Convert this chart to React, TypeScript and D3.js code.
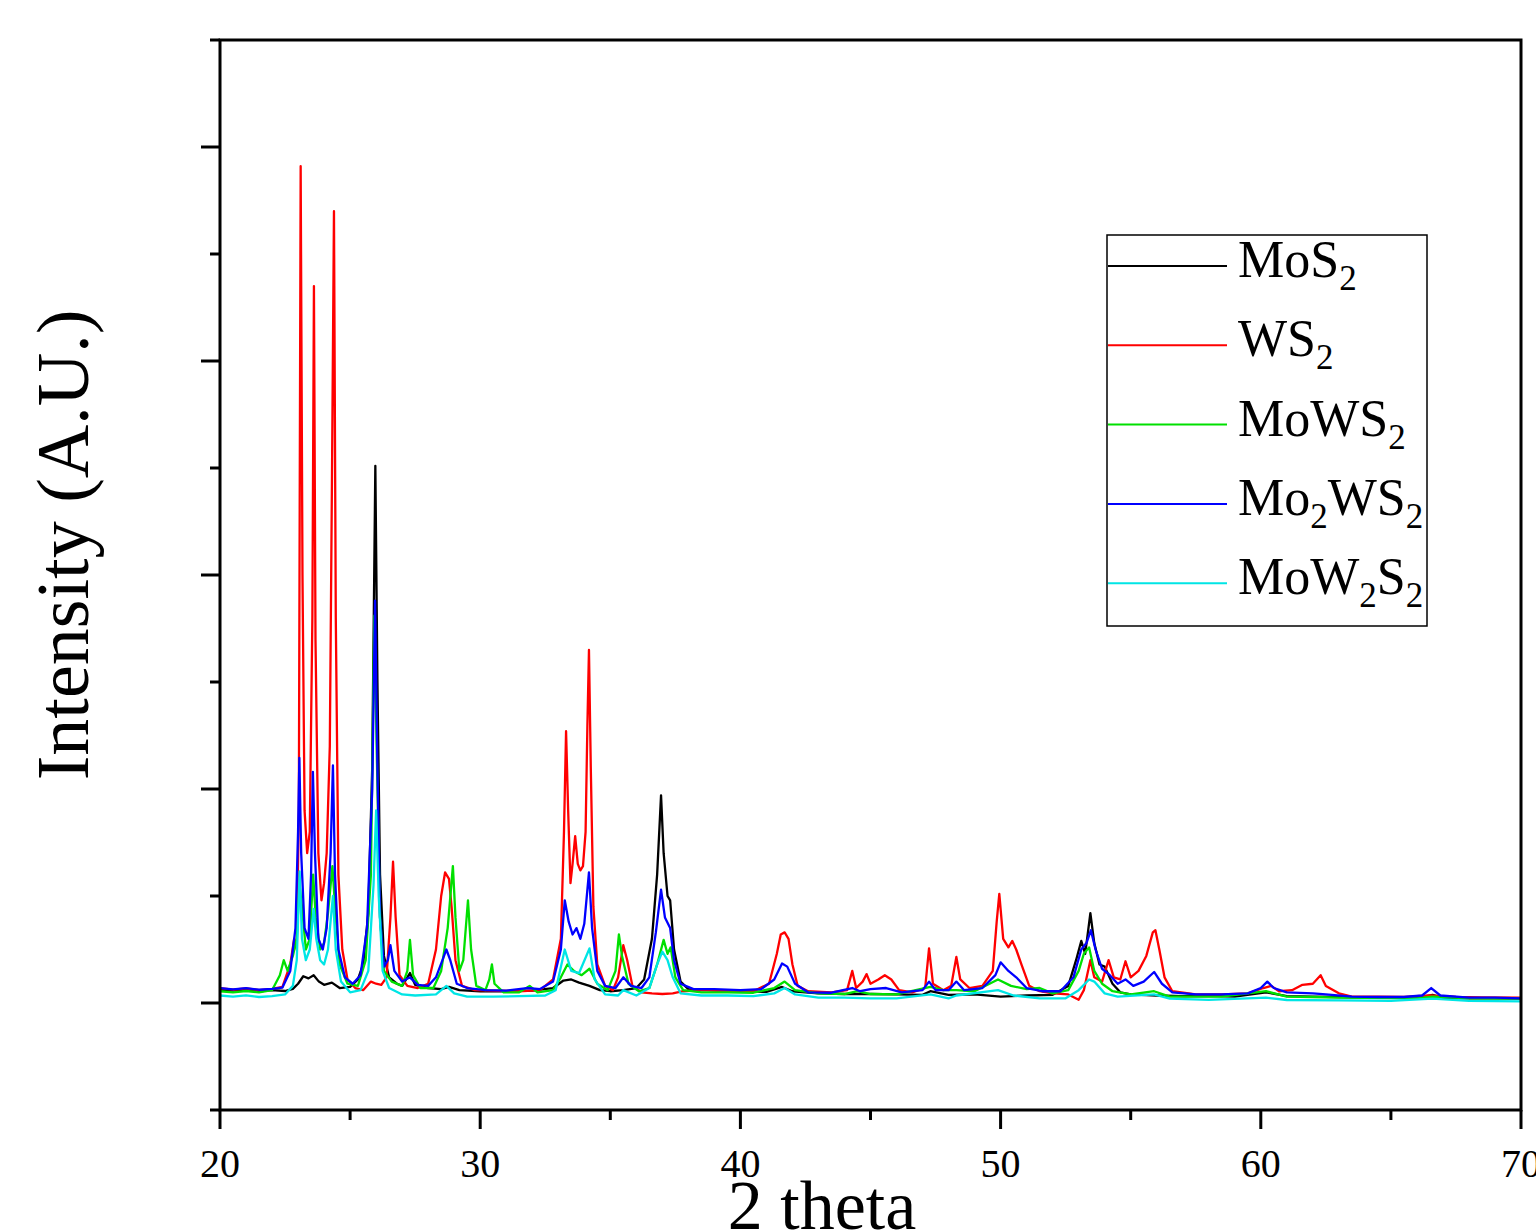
import React, { useEffect, useRef } from 'react';
import * as d3 from 'd3';

// XRD patterns, [2 theta, intensity]
const mos2: [number, number][] = [
  [20, 62], [20.5, 58], [21, 64], [21.5, 55], [22, 60], [22.5, 56], [22.8, 66], [23.0, 90], [23.2, 125], [23.4, 115],
  [23.6, 130], [23.8, 100], [24.0, 85], [24.3, 95], [24.6, 70], [25.0, 75], [25.3, 110], [25.5, 180], [25.7, 420],
  [25.85, 1100], [25.97, 2510], [26.05, 1500], [26.15, 600], [26.3, 220], [26.5, 120], [26.8, 90], [27.0, 80],
  [27.3, 140], [27.5, 85], [28, 70], [28.5, 65], [28.8, 75], [29.2, 60], [30, 55], [31, 55], [32, 58], [32.8, 70],
  [33.2, 105], [33.5, 110], [33.8, 95], [34.2, 80], [34.6, 60], [35, 55], [35.5, 60], [36, 70], [36.3, 110],
  [36.6, 300], [36.8, 600], [36.95, 970], [37.05, 700], [37.2, 500], [37.3, 480], [37.45, 250], [37.7, 100],
  [38, 65], [39, 60], [40, 55], [41, 52], [41.6, 75], [42, 55], [43, 45], [44, 42], [45, 42], [46, 40], [47, 38],
  [47.3, 55], [48, 38], [49, 40], [50, 30], [51, 35], [52, 38], [52.6, 80], [52.9, 200], [53.1, 290], [53.25, 230],
  [53.45, 420], [53.6, 280], [53.8, 180], [54.0, 170], [54.3, 90], [54.6, 50], [55, 40], [56, 35], [57, 32],
  [58, 33], [59, 30], [60.2, 50], [61, 32], [62, 30], [63, 28], [64, 25], [65, 25], [66, 24], [66.6, 38], [67, 24],
  [68, 22], [69, 22], [70, 20],
];

const ws2: [number, number][] = [
  [20, 70], [20.5, 62], [21, 68], [21.5, 60], [22, 66], [22.4, 75], [22.7, 180], [22.85, 300], [22.95, 250],
  [23.03, 900], [23.1, 3910], [23.17, 2000], [23.25, 900], [23.35, 700], [23.45, 800], [23.55, 1800], [23.61, 3350],
  [23.67, 1700], [23.78, 700], [23.9, 480], [24.0, 560], [24.1, 700], [24.22, 1200], [24.3, 2400], [24.38, 3700],
  [24.45, 1800], [24.55, 600], [24.7, 250], [24.9, 110], [25.2, 70], [25.5, 60], [25.8, 100], [26.0, 90],
  [26.2, 85], [26.4, 120], [26.55, 400], [26.65, 660], [26.75, 400], [26.9, 130], [27.2, 80], [27.6, 70], [28, 90],
  [28.3, 250], [28.5, 500], [28.65, 610], [28.8, 580], [28.9, 450], [29.05, 200], [29.3, 80], [29.8, 60],
  [30.5, 58], [31.5, 55], [32.3, 60], [32.8, 110], [33.1, 300], [33.22, 800], [33.3, 1270], [33.38, 900],
  [33.47, 560], [33.55, 650], [33.65, 780], [33.75, 650], [33.85, 620], [33.95, 640], [34.05, 800], [34.12, 1300],
  [34.18, 1650], [34.25, 1100], [34.35, 450], [34.5, 180], [34.8, 80], [35.1, 60], [35.3, 120], [35.5, 270],
  [35.65, 200], [35.85, 80], [36.2, 50], [36.6, 45], [37, 42], [37.4, 45], [37.8, 55], [38.5, 60], [39.5, 55],
  [40.5, 55], [41.1, 90], [41.4, 230], [41.55, 320], [41.7, 330], [41.85, 300], [42.0, 180], [42.2, 80],
  [42.6, 55], [43.5, 50], [44.1, 60], [44.3, 150], [44.45, 70], [44.7, 100], [44.85, 135], [45.0, 90], [45.3, 110],
  [45.55, 130], [45.8, 110], [46.1, 60], [46.6, 50], [47.1, 70], [47.25, 255], [47.4, 90], [47.8, 60], [48.1, 80],
  [48.3, 215], [48.45, 110], [48.8, 70], [49.3, 80], [49.7, 150], [49.85, 380], [49.95, 510], [50.1, 300],
  [50.3, 260], [50.45, 290], [50.6, 250], [50.8, 180], [51.1, 80], [51.5, 55], [52, 45], [52.6, 40], [53.0, 15],
  [53.2, 60], [53.45, 200], [53.6, 120], [53.9, 100], [54.15, 200], [54.35, 120], [54.6, 110], [54.8, 195],
  [55.0, 120], [55.3, 150], [55.6, 220], [55.85, 330], [55.95, 340], [56.1, 250], [56.3, 120], [56.6, 55],
  [57.5, 40], [58.5, 40], [59.5, 45], [60.1, 70], [60.4, 80], [60.7, 55], [61.2, 60], [61.6, 85], [62.0, 90],
  [62.3, 130], [62.5, 80], [63, 45], [63.5, 30], [64.5, 30], [65.5, 28], [66.5, 35], [67.5, 28], [68.5, 26],
  [70, 25],
];

const mows2: [number, number][] = [
  [20, 55], [20.5, 50], [21, 56], [21.5, 50], [22, 60], [22.3, 130], [22.45, 200], [22.6, 150], [22.8, 220],
  [22.95, 300], [23.05, 560], [23.15, 450], [23.3, 250], [23.45, 300], [23.58, 600], [23.68, 400], [23.85, 250],
  [24.0, 280], [24.15, 420], [24.32, 640], [24.45, 400], [24.6, 180], [24.9, 90], [25.3, 80], [25.6, 200],
  [25.8, 600], [25.93, 1810], [26.02, 1200], [26.15, 400], [26.3, 150], [26.6, 100], [27.0, 80], [27.2, 150],
  [27.3, 295], [27.42, 130], [27.7, 70], [28.2, 70], [28.5, 150], [28.75, 350], [28.95, 640], [29.05, 400],
  [29.2, 150], [29.35, 200], [29.53, 480], [29.65, 250], [29.85, 80], [30.2, 60], [30.35, 110], [30.45, 180],
  [30.55, 90], [30.9, 50], [31.5, 50], [31.9, 80], [32.2, 50], [32.8, 60], [33.1, 120], [33.35, 180], [33.6, 150],
  [33.9, 130], [34.2, 160], [34.5, 90], [34.9, 60], [35.2, 150], [35.33, 320], [35.45, 220], [35.7, 90],
  [36.1, 55], [36.5, 70], [36.8, 180], [37.05, 295], [37.2, 230], [37.32, 260], [37.5, 120], [37.8, 60],
  [38.5, 50], [39.5, 50], [40.5, 48], [41.3, 70], [41.7, 100], [42.1, 60], [43, 45], [44, 42], [44.5, 55],
  [45, 42], [46, 40], [47.3, 75], [47.8, 60], [48.3, 60], [49, 55], [49.9, 110], [50.4, 80], [51, 65], [51.5, 70],
  [52, 45], [52.6, 60], [53.0, 150], [53.2, 230], [53.4, 260], [53.6, 150], [53.9, 90], [54.3, 55], [55, 40],
  [55.9, 55], [56.5, 30], [57.5, 30], [58.5, 30], [60.2, 55], [61, 30], [62, 28], [63, 25], [64, 24], [66, 22],
  [66.6, 30], [68, 22], [70, 20],
];

const mo2ws2: [number, number][] = [
  [20, 70], [20.5, 64], [21, 70], [21.5, 62], [22, 66], [22.4, 72], [22.7, 150], [22.9, 350], [23.0, 800],
  [23.05, 1145], [23.12, 700], [23.25, 350], [23.4, 300], [23.5, 600], [23.57, 1080], [23.65, 700], [23.78, 300],
  [23.95, 250], [24.1, 350], [24.25, 700], [24.34, 1110], [24.42, 600], [24.55, 250], [24.8, 120], [25.1, 90],
  [25.4, 130], [25.65, 350], [25.85, 1000], [25.96, 1880], [26.05, 1100], [26.15, 400], [26.3, 170], [26.45, 200],
  [26.55, 270], [26.7, 150], [27.0, 100], [27.3, 120], [27.6, 85], [28.0, 80], [28.3, 120], [28.55, 200],
  [28.7, 250], [28.85, 200], [29.1, 90], [29.5, 70], [30.2, 60], [31.0, 58], [31.8, 70], [32.3, 65], [32.8, 100],
  [33.1, 250], [33.25, 480], [33.4, 380], [33.55, 320], [33.7, 350], [33.85, 300], [34.0, 370], [34.18, 610],
  [34.3, 350], [34.5, 150], [34.8, 80], [35.2, 70], [35.5, 120], [35.8, 80], [36.2, 70], [36.5, 120],
  [36.75, 330], [36.95, 530], [37.1, 400], [37.3, 350], [37.45, 200], [37.7, 90], [38.2, 65], [39, 65], [40, 60],
  [40.8, 65], [41.3, 110], [41.6, 185], [41.8, 170], [42.1, 90], [42.6, 50], [43.5, 48], [44.3, 70], [44.6, 55],
  [45, 65], [45.6, 70], [46.2, 50], [47.0, 60], [47.25, 100], [47.5, 60], [48.0, 60], [48.3, 100], [48.6, 60],
  [49.3, 70], [49.8, 130], [50.0, 190], [50.3, 150], [50.6, 120], [51, 70], [51.6, 55], [52.3, 55], [52.8, 120],
  [53.1, 250], [53.3, 280], [53.47, 340], [53.65, 250], [53.9, 160], [54.2, 130], [54.5, 90], [54.8, 110],
  [55.1, 80], [55.5, 100], [55.9, 145], [56.2, 90], [56.6, 50], [57.5, 40], [58.5, 40], [59.5, 45], [60.0, 70],
  [60.25, 100], [60.5, 70], [61, 50], [62, 45], [62.5, 40], [63.5, 30], [64.5, 28], [65.5, 28], [66.2, 35],
  [66.55, 70], [66.9, 35], [68, 25], [69, 25], [70, 22],
];

const mow2s2: [number, number][] = [
  [20, 35], [20.5, 30], [21, 36], [21.5, 28], [22, 32], [22.5, 40], [22.8, 80], [22.95, 200], [23.06, 615],
  [23.15, 300], [23.3, 200], [23.45, 250], [23.6, 440], [23.7, 300], [23.85, 200], [24.0, 180], [24.15, 250],
  [24.34, 500], [24.45, 250], [24.65, 100], [25.0, 50], [25.4, 60], [25.7, 150], [25.9, 550], [26.0, 900],
  [26.1, 500], [26.25, 150], [26.5, 70], [27, 40], [27.5, 35], [28.3, 40], [28.7, 80], [29.0, 45], [29.5, 30],
  [30.5, 30], [31.5, 32], [32.5, 35], [32.9, 60], [33.25, 250], [33.5, 150], [33.8, 140], [34.2, 255], [34.4, 110],
  [34.8, 40], [35.3, 35], [35.5, 60], [36.0, 35], [36.5, 70], [36.8, 180], [37.0, 240], [37.2, 200], [37.4, 120],
  [37.7, 45], [38.5, 35], [39.5, 35], [40.5, 32], [41.3, 45], [41.7, 70], [42.1, 40], [43, 25], [44, 25], [45, 22],
  [46, 22], [47.3, 40], [48, 22], [48.3, 35], [49.9, 60], [50.5, 35], [51.5, 22], [52.5, 22], [53.0, 60],
  [53.4, 110], [53.6, 100], [54, 45], [54.5, 30], [55.9, 40], [56.5, 20], [58, 15], [60.2, 25], [61, 14], [63, 12],
  [65, 10], [66.6, 20], [68, 10], [70, 8],
];

const seriesNames = ['MoS_2', 'WS_2', 'MoWS_2', 'Mo_2WS_2', 'MoW_2S_2'];
const seriesColors = ['#000000', '#ff0000', '#00e000', '#0000ff', '#00e5e5'];
const seriesData = [mos2, ws2, mows2, mo2ws2, mow2s2];

const xMajor = [20, 30, 40, 50, 60, 70];
const xMinor = [25, 35, 45, 55, 65];
const yMajor = [0, 1000, 2000, 3000, 4000];
const yMinor = [-500, 500, 1500, 2500, 3500, 4500];

const FONT = '"Liberation Serif", "Times New Roman", serif';

const App = () => {
  const ref = useRef<SVGSVGElement>(null);

  useEffect(() => {
    const svg = d3.select(ref.current);
    svg.selectAll('*').remove();

    const left = 220, right = 1521, top = 40, bottom = 1110;
    const x = d3.scaleLinear().domain([20, 70]).range([left, right]);
    const y = d3.scaleLinear().domain([-500, 4500]).range([bottom, top]);

    svg.append('defs').append('clipPath').attr('id', 'plot')
      .append('rect').attr('x', left).attr('y', top).attr('width', right - left).attr('height', bottom - top);

    const line = d3.line<[number, number]>().x(d => x(d[0])).y(d => y(d[1]));

    const g = svg.append('g').attr('clip-path', 'url(#plot)');
    seriesData.forEach((data, i) => {
      g.append('path')
        .attr('d', line(data))
        .attr('fill', 'none')
        .attr('stroke', seriesColors[i])
        .attr('stroke-width', 2.3)
        .attr('stroke-linejoin', 'round');
    });

    // frame
    svg.append('rect')
      .attr('x', left).attr('y', top).attr('width', right - left).attr('height', bottom - top)
      .attr('fill', 'none').attr('stroke', '#000').attr('stroke-width', 3);

    // x axis ticks
    const xAxis = svg.append('g').attr('stroke', '#000').attr('stroke-width', 3);
    xMajor.forEach(v => xAxis.append('line').attr('x1', x(v)).attr('x2', x(v)).attr('y1', bottom).attr('y2', bottom + 19));
    xMinor.forEach(v => xAxis.append('line').attr('x1', x(v)).attr('x2', x(v)).attr('y1', bottom).attr('y2', bottom + 10));
    svg.append('g').selectAll('text').data(xMajor).enter().append('text')
      .attr('x', d => x(d)).attr('y', 1177)
      .attr('text-anchor', 'middle')
      .attr('font-family', FONT).attr('font-size', 40)
      .text(d => d);

    // y axis ticks
    const yAxis = svg.append('g').attr('stroke', '#000').attr('stroke-width', 3);
    yMajor.forEach(v => yAxis.append('line').attr('x1', left - 19).attr('x2', left).attr('y1', y(v)).attr('y2', y(v)));
    yMinor.forEach(v => yAxis.append('line').attr('x1', left - 10).attr('x2', left).attr('y1', y(v)).attr('y2', y(v)));

    // axis titles
    svg.append('text')
      .attr('x', 822).attr('y', 1229)
      .attr('text-anchor', 'middle')
      .attr('font-family', FONT).attr('font-size', 70)
      .text('2 theta');
    svg.append('text')
      .attr('transform', 'translate(88,545) rotate(-90)')
      .attr('text-anchor', 'middle')
      .attr('font-family', FONT).attr('font-size', 74)
      .text('Intensity (A.U.)');

    // legend
    const lg = svg.append('g');
    lg.append('rect').attr('x', 1107).attr('y', 235).attr('width', 320).attr('height', 391)
      .attr('fill', '#fff').attr('stroke', '#000').attr('stroke-width', 1.5);
    seriesNames.forEach((name, i) => {
      const ly = 266 + i * 79.3;
      lg.append('line').attr('x1', 1108).attr('x2', 1227).attr('y1', ly).attr('y2', ly)
        .attr('stroke', seriesColors[i]).attr('stroke-width', 2);
      const t = lg.append('text').attr('x', 1238).attr('y', ly + 24)
        .attr('font-family', FONT).attr('font-size', 52);
      name.split(/(_\d)/).filter(s => s.length).forEach(part => {
        if (part.startsWith('_')) {
          t.append('tspan').attr('font-size', 35).attr('dy', 13).text(part.slice(1));
        } else {
          t.append('tspan').attr('dy', t.selectAll('tspan').size() ? -13 : 0).text(part);
        }
      });
    });
  }, []);

  return (
    <svg ref={ref} width={1536} height={1231}
      style={{ position: 'absolute', left: 0, top: 0, background: '#fff' }} />
  );
};

export default App;
